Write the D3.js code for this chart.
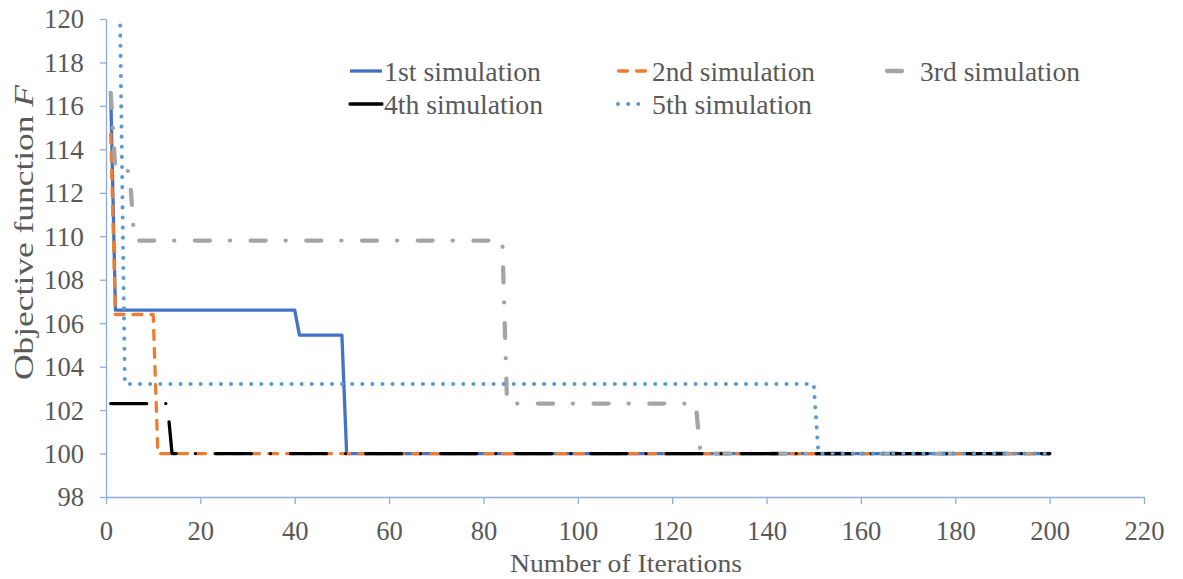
<!DOCTYPE html>
<html><head><meta charset="utf-8">
<script src="https://cdn.jsdelivr.net/npm/d3@7"></script>
<style>
html,body{margin:0;padding:0;background:#fff;}
svg{display:block;}
svg text{font-family:"Liberation Serif","Tinos","Times New Roman","DejaVu Serif","Noto Serif",serif;}
</style></head>
<body><svg id="chart" width="1183" height="579"></svg>
<script>
// Breakpoints (iteration, objective); constant between them
const seriesNames = ["1st simulation","2nd simulation","3rd simulation","4th simulation","5th simulation"];
const sim1 = [[1,116.6],[2,106.6],[40,106.6],[41,105.45],[50,105.45],[51,100],[200,100]];
const sim2 = [[1,114.7],[2,106.4],[10,106.4],[11,100],[200,100]];
const sim3 = [[1,116.6],[2,113.0],[5,113.0],[6,109.8],[84,109.8],[85,102.3],[125,102.3],[126,100],[200,100]];
const sim4 = [[1,102.3],[13,102.3],[14,100],[200,100]];
const sim5 = [[3,119.7],[4,103.2],[150,103.2],[151,100],[200,100]];
const xTicks = [0,20,40,60,80,100,120,140,160,180,200,220];
const yTicks = [98,100,102,104,106,108,110,112,114,116,118,120];

const styles = [
  {color:"#4472C4", width:3.3, dash:null, cap:"butt"},
  {color:"#ED7D31", width:3.3, dash:"9,9", cap:"round"},
  {color:"#A5A5A5", width:4.3, dash:"15,20,0.1,20.6", cap:"round"},
  {color:"#000000", width:3.3, dash:"36,19,0.1,20", cap:"round"},
  {color:"#5B9BD5", width:4, dash:"0.1,10", cap:"round"}
];
const data = [sim1,sim2,sim3,sim4,sim5];

const svg = d3.select("#chart");
const x = d3.scaleLinear().domain([0,220]).range([106,1144]);
const y = d3.scaleLinear().domain([98,120]).range([497,19]);
const textColor = "#595959", axisColor = "#8FAADC";

// axes
const xAxis = svg.append("g").attr("transform","translate(0,497)")
  .call(d3.axisBottom(x).tickValues(xTicks).tickSize(7).tickSizeOuter(0));
const yAxis = svg.append("g").attr("transform","translate(106,0)")
  .call(d3.axisLeft(y).tickValues(yTicks).tickSize(6).tickSizeOuter(0).tickPadding(16));
[xAxis,yAxis].forEach(g=>{
  g.attr("font-family",null);
  g.select(".domain").attr("stroke",axisColor).attr("stroke-width",1.3);
  g.selectAll(".tick line").attr("stroke",axisColor).attr("stroke-width",1.3);
  g.selectAll(".tick text").attr("fill",textColor).style("font-size","27px")
    .attr("textLength",d=>String(d).length*13.3).attr("lengthAdjust","spacingAndGlyphs");
});
xAxis.selectAll(".tick text").attr("y",43).attr("dy","0");
yAxis.selectAll(".tick text").attr("dy","0.33em");

// lines
const line = d3.line().x(d=>x(d[0])).y(d=>y(d[1]));
data.forEach((s,i)=>{
  const st = styles[i];
  svg.append("path").datum(s).attr("d",line)
    .attr("fill","none").attr("stroke",st.color).attr("stroke-width",st.width)
    .attr("stroke-linecap",st.cap).attr("stroke-linejoin","round")
    .attr("stroke-dasharray",st.dash);
});

// legend
const legendItems = [
  {i:0, x1:350, x2:382, tx:384, ty:71, w:157},
  {i:1, x1:618.5, x2:646.5, tx:652, ty:71, w:163},
  {i:2, x1:887, x2:903, tx:920, ty:71, w:160},
  {i:3, x1:350, x2:382, tx:384, ty:104, w:159},
  {i:4, x1:618, x2:638.2, tx:652, ty:104, w:160}
];
legendItems.forEach(it=>{
  const st = styles[it.i];
  svg.append("line").attr("x1",it.x1).attr("x2",it.x2).attr("y1",it.ty).attr("y2",it.ty)
    .attr("stroke",st.color).attr("stroke-width",st.width).attr("stroke-linecap",st.cap)
    .attr("stroke-dasharray",st.dash);
  svg.append("text").attr("x",it.tx).attr("y",it.ty+10)
    .attr("textLength",it.w).attr("lengthAdjust","spacingAndGlyphs")
    .attr("fill",textColor).style("font-size","27px").text(seriesNames[it.i]);
});

// axis titles
svg.append("text").attr("x",626).attr("y",572).attr("text-anchor","middle")
  .attr("textLength",232).attr("lengthAdjust","spacingAndGlyphs")
  .attr("fill",textColor).style("font-size","26px").text("Number of Iterations");
const yt = svg.append("text").attr("transform","translate(33,232.5) rotate(-90)")
  .attr("text-anchor","middle").attr("textLength",295).attr("lengthAdjust","spacingAndGlyphs")
  .attr("fill",textColor).style("font-size","28px");
yt.append("tspan").text("Objective function ");
yt.append("tspan").style("font-style","italic").text("F");
</script></body></html>
